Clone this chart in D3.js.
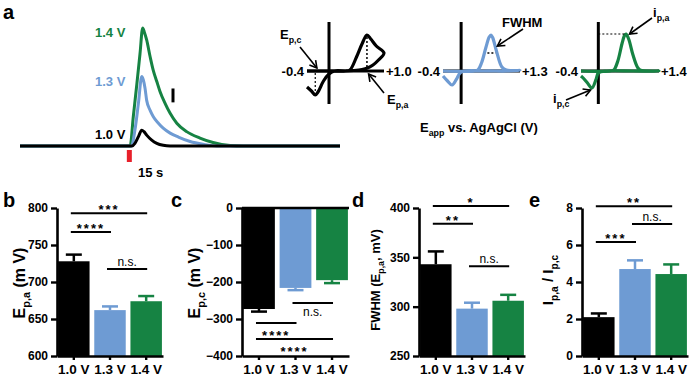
<!DOCTYPE html>
<html><head><meta charset="utf-8">
<script src="https://cdn.jsdelivr.net/npm/d3@7"></script>
<style>
body{margin:0;background:#fff}
svg{display:block;font-family:"Liberation Sans",Arial,Helvetica,sans-serif}
</style>
</head><body>
<svg id="chart" width="691" height="389"></svg>
<script>
// ---------------- DATA ----------------
const categories = ["1.0 V", "1.3 V", "1.4 V"];
const colors = ["#000000", "#6e9bd3", "#168343"];

// Panel a: transient traces (time s relative to stimulus, current a.u.)
const greenT = [-41, 0, 0.3, 1.5, 2.8, 4, 5.0, 5.6, 6.5, 7.8, 9.0, 10.3, 11.5, 13.4, 15.3, 17.8, 21.5, 26.5, 31.4, 37.8, 42.7, 79];
const greenI = [0, 0, 0, 30, 62, 93, 119, 115, 107, 90, 76, 65, 55, 43, 33, 23, 14.5, 8, 3.5, 0.5, 0, 0];
const blueT = [-41, 0, 0.8, 2.1, 3.4, 4.65, 5.2, 5.9, 6.5, 7.8, 9.0, 10.9, 12.7, 15.3, 18.4, 22.8, 27.7, 32.8, 79];
const blueI = [0, 0, 0, 16, 43, 70, 67, 58, 46, 36, 29.6, 23, 18, 13, 9, 4.5, 1.7, 0, 0];
const blackT = [-41, 0, 1.0, 2.1, 3.5, 4.65, 5.5, 6.5, 8.4, 10.3, 12.7, 15.3, 79];
const blackI = [0, 0, 0, 2.7, 10, 16, 14.5, 11, 6, 2.7, 0.7, 0, 0];
const traceLabels = ["1.0 V", "1.3 V", "1.4 V"];
const stimulusTime = 0;

// CV insets (potential V, current a.u.)
const cv10E = [-0.4, 0, 0.3, 0.38, 0.5, 0.6, 0.69, 0.76, 0.86, 1.0, 0.9, 0.8, 0.7, 0.6, 0.45, 0.3, 0.1, 0.0, -0.1, -0.2, -0.25, -0.32, -0.4];
const cv10I = [0, 0, 0, 1, 14, 27, 36, 32, 25, 18, 11, 6, 3, 1.5, 0.5, 0, 0, -3, -10, -21, -24, -20, -16];
const cv13E = [-0.4, 0.3, 0.37, 0.45, 0.55, 0.62, 0.66, 0.7, 0.78, 0.9, 1.0, 1.3, 1.0, 0.5, 0.0, -0.1, -0.2, -0.3, -0.4];
const cv13I = [0, 0, 1, 8, 24, 34, 36, 33, 20, 4, 1, 0.5, 0, 0, -1, -8, -14, -10, -5];
const cv14E = [-0.4, 0.3, 0.36, 0.45, 0.55, 0.61, 0.64, 0.7, 0.8, 0.9, 0.96, 1.4, 0.8, 0.2, 0.0, -0.05, -0.15, -0.25, -0.35, -0.4];
const cv14I = [0, 0, 1, 10, 28, 36, 37, 32, 16, 4, 1, 0, 0, 0, -2, -8, -17, -12, -7, -5];
const cvMax = [1.0, 1.3, 1.4];

// Panel b: Ep,a (mV)
const epaMean = [728, 662, 674];
const epaErr = [9, 5, 7];
const epaTicks = [600, 650, 700, 750, 800];
const epaSig = [{a: 0, b: 2, v: 793, t: "***"}, {a: 0, b: 1, v: 767.5, t: "****"}, {a: 1, b: 2, v: 717.5, t: "n.s."}];
// Panel c: Ep,c (mV)
const epcMean = [-273, -216, -195];
const epcErr = [7, 6, 8];
const epcTicks = [-400, -300, -200, -100, 0];
const epcSig = [{a: 1, b: 2, v: -257, t: "n.s."}, {a: 0, b: 1, v: -311, t: "****"}, {a: 0, b: 2, v: -354, t: "****"}];
// Panel d: FWHM (mV)
const fwhmMean = [343, 298, 306];
const fwhmErr = [13, 6, 6];
const fwhmTicks = [250, 300, 350, 400];
const fwhmSig = [{a: 0, b: 2, v: 402, t: "*"}, {a: 0, b: 1, v: 384, t: "**"}, {a: 1, b: 2, v: 341, t: "n.s."}];
// Panel e: ip,a / ip,c
const ratioMean = [2.1, 4.7, 4.43];
const ratioErr = [0.2, 0.47, 0.52];
const ratioTicks = [0, 2, 4, 6, 8];
const ratioSig = [{a: 0, b: 2, v: 8.1, t: "**"}, {a: 1, b: 2, v: 7.14, t: "n.s."}, {a: 0, b: 1, v: 6.16, t: "***"}];

// ---------------- DRAW ----------------
const svg = d3.select("#chart");
const defs = svg.append("defs");
defs.append("marker").attr("id", "arr").attr("markerUnits", "userSpaceOnUse")
  .attr("markerWidth", 10).attr("markerHeight", 10).attr("refX", 8).attr("refY", 5)
  .attr("orient", "auto")
  .append("path").attr("d", "M1,1 L8,5 L1,9").attr("fill", "none")
  .attr("stroke", "#000").attr("stroke-width", 1.6);

function txt(g, x, y, parts, size, opts = {}) {
  const t = g.append("text").attr("x", x).attr("y", y)
    .attr("font-size", size).attr("font-weight", opts.weight || "bold")
    .attr("fill", opts.fill || "#000")
    .attr("text-anchor", opts.anchor || "start");
  if (opts.transform) t.attr("transform", opts.transform);
  let sub = false;
  parts.forEach(p => {
    const s = t.append("tspan").text(p[0]);
    if (p[1] && !sub) { s.attr("dy", size * 0.3).attr("font-size", size * 0.68); sub = true; }
    else if (!p[1] && sub) { s.attr("dy", -size * 0.3); sub = false; }
  });
  return t;
}

// ----- panel a: traces -----
const gA = svg.append("g");
txt(gA, 3, 19, [["a"]], 20);
const xT = d3.scaleLinear().domain([-41, 79]).range([20, 340]);
const yT = d3.scaleLinear().domain([0, 120]).range([146, 27]);
const tline = d3.line().x(d => xT(d[0])).y(d => yT(d[1])).curve(d3.curveMonotoneX);
const traces = [[blackT, blackI], [blueT, blueI], [greenT, greenI]];
[2, 1, 0].forEach(k => {
  const pts = traces[k][0].map((t, i) => [t, traces[k][1][i]]);
  gA.append("path").datum(pts).attr("d", tline).attr("fill", "none")
    .attr("stroke", colors[k]).attr("stroke-width", 3).attr("stroke-linejoin", "round");
});
const peakI = [d3.max(blackI), d3.max(blueI), d3.max(greenI)];
traceLabels.forEach((l, k) => {
  txt(gA, 95, yT(peakI[k]) + 9, [[l]], 13, {fill: colors[k]});
});
gA.append("rect").attr("x", xT(stimulusTime) - 2.5).attr("y", 150).attr("width", 5).attr("height", 12).attr("fill", "#e8202a");
txt(gA, 138, 177, [["15 s"]], 13);
gA.append("line").attr("x1", 173).attr("x2", 173).attr("y1", yT(58)).attr("y2", yT(44))
  .attr("stroke", "#000").attr("stroke-width", 3);

// ----- CV insets -----
const cvLefts = [307, 443, 581];
const cvRights = [384, 520, 659];
const cvData = [[cv10E, cv10I], [cv13E, cv13I], [cv14E, cv14I]];
const cvLine = (xs, ys) => d3.line().x(d => xs(d[0])).y(d => ys(d[1])).curve(d3.curveCatmullRom.alpha(0.5));
const cvScales = [];
for (let k = 0; k < 3; k++) {
  const g = svg.append("g");
  const xs = d3.scaleLinear().domain([-0.4, cvMax[k]]).range([cvLefts[k], cvRights[k]]);
  const ys = d3.scaleLinear().domain([-33, 49]).range([104, 22]);
  cvScales.push([xs, ys]);
  g.append("line").attr("x1", xs(0)).attr("x2", xs(0)).attr("y1", ys(-33)).attr("y2", ys(49))
    .attr("stroke", "#000").attr("stroke-width", 3);
  g.append("line").attr("x1", xs(-0.4)).attr("x2", xs(cvMax[k])).attr("y1", ys(0)).attr("y2", ys(0))
    .attr("stroke", "#000").attr("stroke-width", 3);
  const pts = cvData[k][0].map((e, i) => [e, cvData[k][1][i]]);
  g.append("path").datum(pts).attr("d", cvLine(xs, ys)).attr("fill", "none")
    .attr("stroke", colors[k]).attr("stroke-width", 3.2).attr("stroke-linejoin", "round");
  txt(g, xs(-0.4) - 3, ys(0) + 5, [["-0.4"]], 13, {anchor: "end"});
  txt(g, xs(cvMax[k]) + 2, ys(0) + 5, [["+" + cvMax[k].toFixed(1)]], 13);
}
{
  const [xs, ys] = cvScales[0];
  svg.append("line").attr("x1", xs(0.69)).attr("x2", xs(0.69)).attr("y1", ys(34)).attr("y2", ys(3))
    .attr("stroke", "#000").attr("stroke-width", 1.5).attr("stroke-dasharray", "2,2");
  svg.append("line").attr("x1", xs(-0.25)).attr("x2", xs(-0.25)).attr("y1", ys(-2)).attr("y2", ys(-22))
    .attr("stroke", "#000").attr("stroke-width", 1.2).attr("stroke-dasharray", "2,2");
  txt(svg, 280, 39, [["E"], ["p,c", 1]], 13);
  svg.append("line").attr("x1", 300).attr("y1", 47).attr("x2", xs(-0.22)).attr("y2", ys(3))
    .attr("stroke", "#000").attr("stroke-width", 1.6).attr("marker-end", "url(#arr)");
  txt(svg, 387, 104, [["E"], ["p,a", 1]], 13);
  svg.append("line").attr("x1", 384).attr("y1", 93).attr("x2", xs(0.72)).attr("y2", ys(-3))
    .attr("stroke", "#000").attr("stroke-width", 1.6).attr("marker-end", "url(#arr)");
}
{
  const [xs, ys] = cvScales[1];
  svg.append("line").attr("x1", xs(0.58)).attr("x2", xs(0.76)).attr("y1", ys(18)).attr("y2", ys(18))
    .attr("stroke", "#000").attr("stroke-width", 1.4).attr("stroke-dasharray", "2,2");
  txt(svg, 502, 27, [["FWHM"]], 13);
  svg.append("line").attr("x1", 523).attr("y1", 29).attr("x2", xs(0.8)).attr("y2", ys(25))
    .attr("stroke", "#000").attr("stroke-width", 1.6).attr("marker-end", "url(#arr)");
  txt(svg, 420, 132, [["E"], ["app", 1], [" vs. AgAgCl (V)"]], 13);
}
{
  const [xs, ys] = cvScales[2];
  svg.append("line").attr("x1", xs(0)).attr("x2", xs(0.64)).attr("y1", ys(37)).attr("y2", ys(37))
    .attr("stroke", "#000").attr("stroke-width", 1.2).attr("stroke-dasharray", "2,2");
  txt(svg, 653, 17, [["i"], ["p,a", 1]], 13);
  svg.append("line").attr("x1", 652).attr("y1", 18).attr("x2", xs(0.72)).attr("y2", ys(37))
    .attr("stroke", "#000").attr("stroke-width", 1.6).attr("marker-end", "url(#arr)");
  txt(svg, 553, 103, [["i"], ["p,c", 1]], 13);
  svg.append("line").attr("x1", 566).attr("y1", 100).attr("x2", xs(-0.18)).attr("y2", ys(-19))
    .attr("stroke", "#000").attr("stroke-width", 1.6).attr("marker-end", "url(#arr)");
}

// ----- bar panels -----
function barPanel(c) {
  const g = svg.append("g");
  const top = 208, bottom = 356;
  const y = d3.scaleLinear().domain(c.domain).range([bottom, top]);
  const x = d3.scaleBand().domain(categories).range([c.left, c.right]).paddingInner(0.13).paddingOuter(0.03);
  const base = c.neg ? 0 : c.domain[0];
  g.selectAll("rect.bar").data(c.means).join("rect").attr("class", "bar")
    .attr("x", (d, i) => x(categories[i])).attr("width", x.bandwidth())
    .attr("y", d => Math.min(y(d), y(base))).attr("height", d => Math.abs(y(d) - y(base)))
    .attr("fill", (d, i) => colors[i]);
  c.means.forEach((m, i) => {
    const cx = x(categories[i]) + x.bandwidth() / 2;
    const e = c.neg ? m - c.errs[i] : m + c.errs[i];
    g.append("line").attr("x1", cx).attr("x2", cx).attr("y1", y(m)).attr("y2", y(e))
      .attr("stroke", colors[i]).attr("stroke-width", 2.5);
    g.append("line").attr("x1", cx - 8).attr("x2", cx + 8).attr("y1", y(e)).attr("y2", y(e))
      .attr("stroke", colors[i]).attr("stroke-width", 2.5);
  });
  const ya = g.append("g").attr("transform", `translate(${c.left},0)`)
    .call(d3.axisLeft(y).tickValues(c.ticks).tickSize(6).tickPadding(3).tickSizeOuter(0));
  const xa = g.append("g").attr("transform", `translate(0,${bottom})`)
    .call(d3.axisBottom(x).tickSize(4).tickPadding(4).tickSizeOuter(0));
  [ya, xa].forEach((a, j) => {
    a.select(".domain").attr("stroke-width", 2.6);
    a.selectAll(".tick line").attr("stroke-width", 2.4);
    a.selectAll("text").attr("font-size", j === 0 ? 12 : 13.5).attr("font-weight", "bold")
      .attr("font-family", '"Liberation Sans",Arial,sans-serif').attr("fill", "#000");
  });
  if (c.neg) {
    g.append("line").attr("x1", c.left).attr("x2", c.right).attr("y1", y(0)).attr("y2", y(0))
      .attr("stroke", "#000").attr("stroke-width", 2.6);
  }
  c.sigs.forEach(s => {
    const x1 = x(categories[s.a]) + x.bandwidth() / 2 - 3;
    const x2 = x(categories[s.b]) + x.bandwidth() / 2 + 1;
    const yy = y(s.v);
    g.append("line").attr("x1", x1).attr("x2", x2).attr("y1", yy).attr("y2", yy)
      .attr("stroke", "#000").attr("stroke-width", 2);
    const ns = s.t === "n.s.";
    let ty;
    if (c.neg) ty = ns ? yy + 13 : yy + 17;
    else ty = ns ? yy - 3 : yy + 1;
    g.append("text").attr("x", (x1 + x2) / 2).attr("y", ty).attr("text-anchor", "middle")
      .attr("font-size", ns ? 12 : 13).attr("font-weight", ns ? "normal" : "bold")
      .attr("letter-spacing", ns ? 0 : 2).text(s.t);
  });
  txt(g, c.letterX, 207, [[c.letter]], 20);
  txt(g, 0, 0, c.label, c.labelSize, {anchor: "middle", transform: `translate(${c.labelX},${c.labelY}) rotate(-90)`});
}

barPanel({left: 57, right: 163, domain: [600, 800], ticks: epaTicks, means: epaMean, errs: epaErr,
  sigs: epaSig, letter: "b", letterX: 3, label: [["E"], ["p,a", 1], [" (m V)"]], labelSize: 16, labelX: 25, labelY: 283});
barPanel({left: 242, right: 349, domain: [-400, 0], ticks: epcTicks, means: epcMean, errs: epcErr, neg: true,
  sigs: epcSig, letter: "c", letterX: 171, label: [["E"], ["p,c", 1], ["  (m V)"]], labelSize: 16, labelX: 200, labelY: 283});
barPanel({left: 419, right: 525, domain: [250, 400], ticks: fwhmTicks, means: fwhmMean, errs: fwhmErr,
  sigs: fwhmSig, letter: "d", letterX: 352, label: [["FWHM (E"], ["p,a", 1], [", mV)"]], labelSize: 13, labelX: 380, labelY: 280});
barPanel({left: 582, right: 688, domain: [0, 8], ticks: ratioTicks, means: ratioMean, errs: ratioErr,
  sigs: ratioSig, letter: "e", letterX: 529, label: [["I"], ["p,a", 1], [" / I"], ["p,c", 1]], labelSize: 15, labelX: 553, labelY: 280});
</script>
</body></html>
